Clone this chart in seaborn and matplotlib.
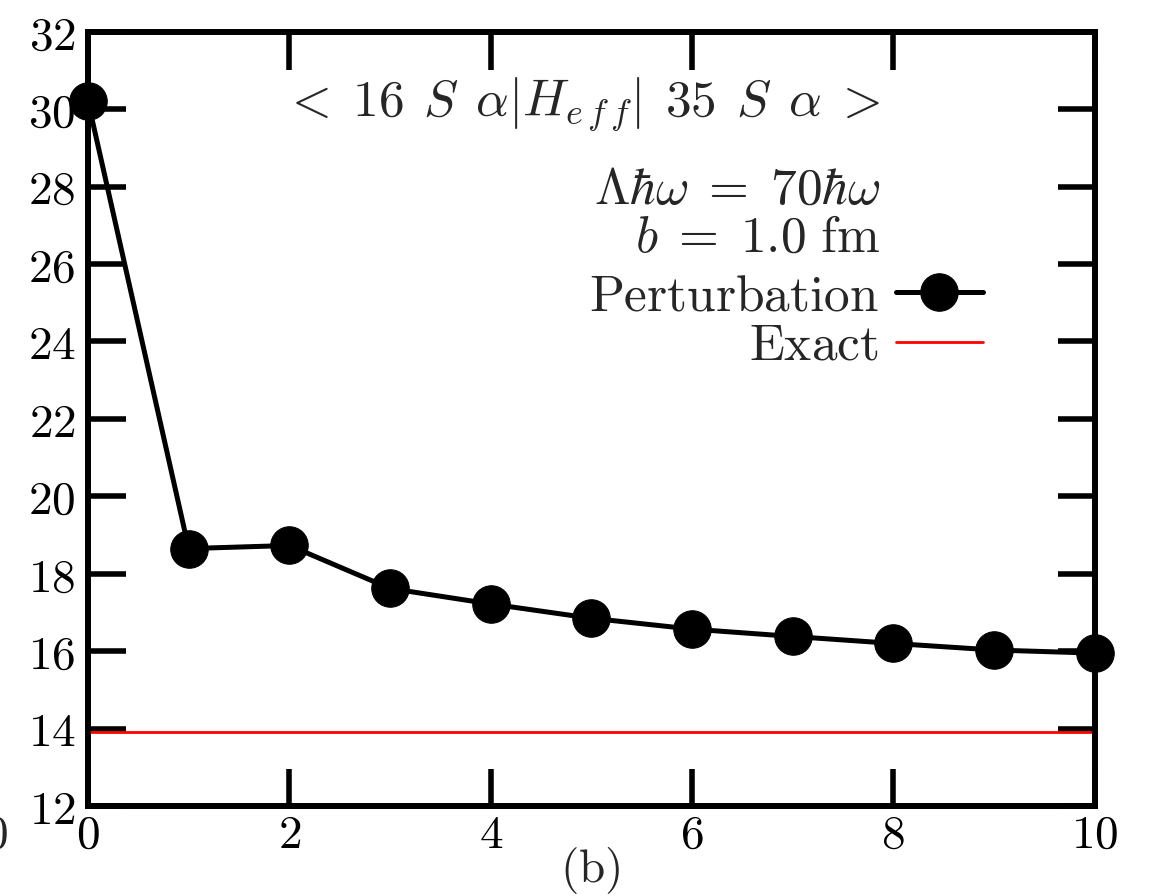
import numpy as np
import pandas as pd
import seaborn as sns
import matplotlib
matplotlib.use("Agg")
import matplotlib.pyplot as plt
from matplotlib.ticker import FuncFormatter, MultipleLocator

# Data
order = [0, 1, 2, 3, 4, 5, 6, 7, 8, 9, 10]
perturbation = [30.2, 18.65, 18.73, 17.62, 17.22, 16.85, 16.57, 16.38, 16.2, 16.03, 15.95]
exact_x = [0, 10]
exact_y = [13.9, 13.9]

sns.set_style("white")
plt.rcParams["mathtext.fontset"] = "cm"
plt.rcParams["font.family"] = ["DejaVu Serif"]

fig = plt.figure(figsize=(11.51, 8.96), dpi=100)
ax = fig.add_axes([0.0765, 0.1004, 0.8745, 0.8642])

df = pd.DataFrame({"order": order, "value": perturbation})
sns.lineplot(data=df, x="order", y="value", ax=ax, color="black", linewidth=3.6,
             marker="o", markersize=27, markeredgecolor="black", markerfacecolor="black",
             label=r"$\mathrm{Perturbation}$", zorder=3, clip_on=False)
dfe = pd.DataFrame({"order": exact_x, "value": exact_y})
sns.lineplot(data=dfe, x="order", y="value", ax=ax, color="red", linewidth=2.0,
             label=r"$\mathrm{Exact}$", zorder=2)

ax.set_xlim(0, 10)
ax.set_ylim(12, 32)
ax.xaxis.set_major_locator(MultipleLocator(2))
ax.yaxis.set_major_locator(MultipleLocator(2))
fmt = FuncFormatter(lambda v, p: f"${v:g}$")
ax.xaxis.set_major_formatter(fmt)
ax.yaxis.set_major_formatter(fmt)
ax.set_xlabel("")
ax.set_ylabel("")
ax.tick_params(axis="both", which="major", direction="in", length=27, width=4,
               top=True, right=True, bottom=True, left=True,
               labelsize=34, color="black", labelcolor="black")
ax.tick_params(axis="y", pad=9)
ax.tick_params(axis="x", pad=5)
for s in ax.spines.values():
    s.set_visible(True)
    s.set_linewidth(4.3)
    s.set_color("black")

fs = 37
xr = 0.787
ax.text(xr, 0.905, r"$<\;16\;\,S\;\,\alpha|H_{e\,f\,f}|\;\,35\;\,S\;\,\alpha\;>$", transform=ax.transAxes,
        ha="right", va="center", fontsize=fs)
ax.text(xr, 0.795, r"$\Lambda\hbar\omega\;=\;70\hbar\omega$", transform=ax.transAxes,
        ha="right", va="center", fontsize=fs)
ax.text(xr, 0.734, r"$b\;=\;1.0\ \mathrm{fm}$", transform=ax.transAxes,
        ha="right", va="center", fontsize=fs)

leg = ax.legend(loc="upper right", bbox_to_anchor=(0.889, 0.69), frameon=False,
                markerfirst=False, fontsize=fs, handlelength=1.7, handletextpad=0.33,
                borderpad=0, borderaxespad=0, labelspacing=0.0)

fig.text(0.5125, 0.028, r"$\mathrm{(b)}$", ha="center", va="center", fontsize=34)
fig.text(0.007, 0.068, r"$10$", ha="right", va="center", fontsize=34)

fig.savefig("out.png", dpi=100)
